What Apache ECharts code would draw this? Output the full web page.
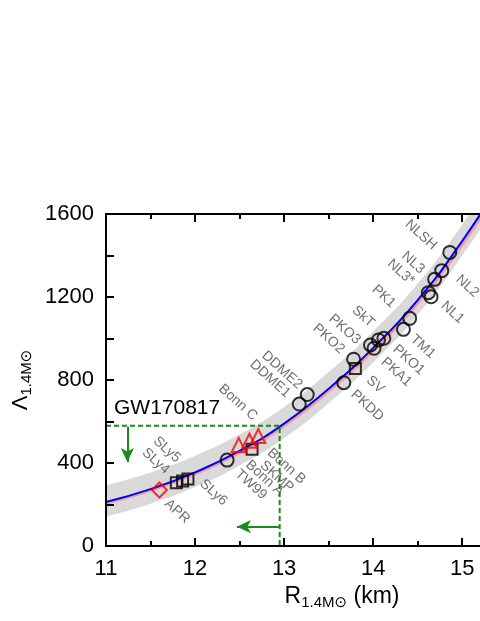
<!DOCTYPE html>
<html lang="en">
<head>
    <meta charset="UTF-8">
    <title>Lambda vs R</title>
    <script src="https://cdn.jsdelivr.net/npm/echarts@6/dist/echarts.min.js"></script>
    <style>
        html, body { margin: 0; padding: 0; background: #fff; }
        #main { width: 480px; height: 621px; }
    </style>
</head>
<body>
    <div id="main"></div>
    <script type="text/javascript">
        // fitted curve (blue), second fit (pink) and the grey band
        const fitR = [11.0, 11.5, 12.0, 12.5, 13.0, 13.5, 14.0, 14.5, 15.0, 15.5, 16.0, 16.5];
        const fitLambda = [212, 274, 355, 458, 590, 758, 955, 1185, 1470, 1800, 2170, 2600];
        const fitLambdaAlt = [206, 268, 348, 450, 580, 746, 942, 1170, 1452, 1780, 2145, 2570];
        const bandLow = [142, 204, 285, 388, 520, 688, 885, 1115, 1400, 1730, 2100, 2530];
        const bandHigh = [292, 354, 435, 538, 670, 838, 1035, 1265, 1550, 1880, 2250, 2680];

        // EoS models
        const circleNames = ['NLSH', 'NL2', 'NL3', 'NL3*', 'NL1', 'PK1', 'TM1', 'PKO1', 'SkT', 'PKA1', 'PKO3', 'PKO2', 'PKDD', 'DDME2', 'DDME1', 'TW99'];
        const circleR = [14.86, 14.77, 14.69, 14.62, 14.65, 14.41, 14.34, 14.12, 14.06, 14.01, 13.97, 13.78, 13.67, 13.26, 13.17, 12.36];
        const circleLambda = [1415, 1327, 1285, 1221, 1201, 1097, 1044, 1001, 993, 953, 969, 900, 787, 730, 684, 414];

        const squareNames = ['SLy4', 'SLy5', 'SLy6', 'SKMP', 'SV'];
        const squareR = [11.79, 11.86, 11.92, 12.64, 13.80];
        const squareLambda = [305, 313, 323, 466, 856];

        const triangleNames = ['Bonn A', 'Bonn B', 'Bonn C'];
        const triangleR = [12.49, 12.61, 12.71];
        const triangleLambda = [487, 507, 530];

        const diamondNames = ['APR'];
        const diamondR = [11.60];
        const diamondLambda = [270];

        // GW170817 bound
        const gwR = 12.95;
        const gwLambda = 580;
        const downArrow = [[11.24, 575], [11.24, 405]];
        const leftArrow = [[12.95, 93], [12.47, 93]];

        // label placement: screen px offset from the marker to the text anchor
        const labelOffsets = {
            'NLSH': [-15, -5], 'NL3': [-12, -8], 'NL3*': [-16, -10], 'NL2': [16, 7], 'NL1': [12, 7],
            'PK1': [-16, -13], 'TM1': [9, 8], 'SkT': [-6, -15], 'PKO3': [-12, -3], 'PKO2': [-11, -8],
            'PKO1': [11, 9], 'PKA1': [9, 12], 'SV': [13, 10], 'PKDD': [9, 10],
            'DDME2': [-7, -8], 'DDME1': [-11, -9], 'Bonn C': [-3, -18], 'Bonn B': [20, 10],
            'Bonn A': [9, 18], 'SKMP': [10, 14], 'TW99': [10, 12], 'SLy5': [-4, -21],
            'SLy4': [-9, -11], 'SLy6': [14, 3], 'APR': [7, 12]
        };
        const LABEL_ROT = 42;

        const FONT = '"Liberation Sans", Arial, "DejaVu Sans", sans-serif';
        const zip = (a, b) => a.map((v, i) => [v, b[i]]);

        // zrender rotates the offset together with the text, so turn screen offset into local frame
        const toLocal = off => {
            const c = Math.cos(LABEL_ROT * Math.PI / 180);
            const s = Math.sin(LABEL_ROT * Math.PI / 180);
            return [off[0] * c + off[1] * s, -off[0] * s + off[1] * c];
        };

        const pointData = (names, rs, ls) => names.map((n, i) => {
            const off = labelOffsets[n] || [8, 8];
            return {
                name: n,
                value: [rs[i], ls[i]],
                label: {
                    show: true,
                    formatter: n,
                    position: 'inside',
                    align: off[0] < 0 ? 'right' : 'left',
                    verticalAlign: 'middle',
                    offset: toLocal(off),
                    rotate: -LABEL_ROT,
                    color: '#4d4d4d',
                    fontSize: 14,
                    fontFamily: FONT
                }
            };
        });

        const tickStyle = { color: '#000', width: 2 };

        const myChart = echarts.init(document.getElementById('main'));
        myChart.setOption({
            animation: false,
            grid: {
                left: 106, top: 214, right: -98, bottom: 75,
                outerBoundsMode: 'none'
            },
            xAxis: [{
                type: 'value', min: 11, max: 16.3, interval: 1,
                position: 'bottom', z: 10,
                axisLine: { lineStyle: tickStyle },
                axisTick: { inside: true, length: 8, lineStyle: tickStyle },
                minorTick: { show: true, splitNumber: 2, length: 5, lineStyle: tickStyle },
                splitLine: { show: false },
                axisLabel: { fontSize: 22, color: '#000', margin: 12, fontFamily: FONT },
                name: '{a|R}{b|1.4M⊙}{a| (km)}',
                nameLocation: 'middle',
                nameGap: 32,
                nameTextStyle: {
                    fontFamily: FONT,
                    rich: {
                        a: { fontSize: 23, fontFamily: FONT, color: '#000' },
                        b: { fontSize: 15, fontFamily: FONT, color: '#000', padding: [12, 0, 0, 0] }
                    }
                }
            }, {
                type: 'value', min: 11, max: 16.3, interval: 1,
                position: 'top', z: 10,
                axisLine: { lineStyle: tickStyle },
                axisTick: { inside: true, length: 8, lineStyle: tickStyle },
                minorTick: { show: true, splitNumber: 2, length: 5, lineStyle: tickStyle },
                splitLine: { show: false },
                axisLabel: { show: false }
            }],
            yAxis: {
                type: 'value', min: 0, max: 1600, interval: 400, z: 10,
                axisLine: { show: true, lineStyle: tickStyle },
                axisTick: { show: true, inside: true, length: 8, lineStyle: tickStyle },
                minorTick: { show: true, splitNumber: 2, length: 8, lineStyle: tickStyle },
                splitLine: { show: false },
                axisLabel: {
                    fontSize: 22, color: '#000', margin: 12, fontFamily: FONT,
                    formatter: v => String(v)
                },
                name: '{a|Λ}{b|1.4M⊙}',
                nameLocation: 'middle',
                nameGap: 58,
                nameTextStyle: {
                    fontFamily: FONT,
                    rich: {
                        a: { fontSize: 22, fontFamily: FONT, color: '#000' },
                        b: { fontSize: 15, fontFamily: FONT, color: '#000', padding: [12, 0, 0, 0] }
                    }
                }
            },
            graphic: [{
                type: 'text', left: 114, top: 398,
                style: { text: 'GW170817', fontSize: 21, fontFamily: FONT, fill: '#000' }
            }, {
                type: 'text', left: 434, top: 506,
                style: {
                    text: '{i|r} = 0.99',
                    fontSize: 26, fontFamily: '"Liberation Serif", serif', fill: '#000',
                    rich: { i: { fontSize: 28, fontStyle: 'italic', fontFamily: '"Liberation Serif", serif' } }
                }
            }],
            series: [{
                // grey band: upper edge filled grey, lower edge filled white on top of it
                type: 'line', smooth: true, symbol: 'none', silent: true, z: 0,
                data: zip(fitR, bandHigh),
                lineStyle: { opacity: 0 },
                areaStyle: { color: '#d9d9d9', opacity: 1 }
            }, {
                type: 'line', smooth: true, symbol: 'none', silent: true, z: 1,
                data: zip(fitR, bandLow),
                lineStyle: { opacity: 0 },
                areaStyle: { color: '#ffffff', opacity: 1 }
            }, {
                type: 'line', smooth: true, symbol: 'none', silent: true, z: 2,
                data: zip(fitR, fitLambdaAlt),
                lineStyle: { color: '#f0a0a0', width: 3 }
            }, {
                type: 'line', smooth: true, symbol: 'none', silent: true, z: 3,
                data: zip(fitR, fitLambda),
                lineStyle: { color: '#0000ff', width: 2 }
            }, {
                type: 'line', symbol: 'none', silent: true, z: 4,
                data: [[11, gwLambda], [gwR, gwLambda], [gwR, 0]],
                lineStyle: { color: '#1b8a1b', width: 2, type: [5, 3] },
                markLine: {
                    silent: true,
                    symbol: ['none', 'arrow'],
                    symbolSize: [10, 14],
                    label: { show: false },
                    lineStyle: { color: '#1b8a1b', width: 2, type: 'solid' },
                    data: [
                        [{ coord: downArrow[0] }, { coord: downArrow[1] }],
                        [{ coord: leftArrow[0] }, { coord: leftArrow[1] }]
                    ]
                }
            }, {
                type: 'scatter', symbol: 'circle', symbolSize: 13, z: 5,
                data: pointData(circleNames, circleR, circleLambda),
                itemStyle: { color: 'rgba(0,0,0,0)', borderColor: '#000', borderWidth: 2 }
            }, {
                type: 'scatter', symbol: 'rect', symbolSize: 11, z: 5,
                data: pointData(squareNames, squareR, squareLambda),
                itemStyle: { color: 'rgba(0,0,0,0)', borderColor: '#000', borderWidth: 2 }
            }, {
                type: 'scatter', symbol: 'triangle', symbolSize: 14, z: 5,
                data: pointData(triangleNames, triangleR, triangleLambda),
                itemStyle: { color: 'rgba(0,0,0,0)', borderColor: '#ff0000', borderWidth: 2 }
            }, {
                type: 'scatter', symbol: 'diamond', symbolSize: 15, z: 5,
                data: pointData(diamondNames, diamondR, diamondLambda),
                itemStyle: { color: 'rgba(0,0,0,0)', borderColor: '#ff0000', borderWidth: 2 }
            }]
        });
    </script>
</body>
</html>
